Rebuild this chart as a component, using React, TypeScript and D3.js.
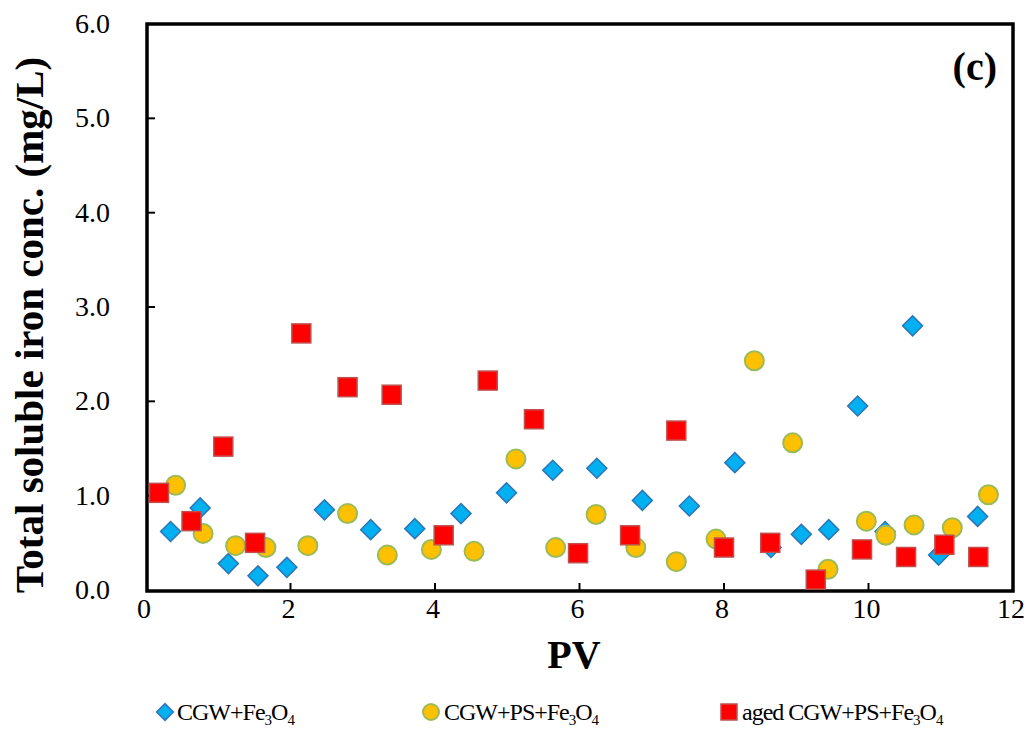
import React, { useRef, useEffect } from 'react';
import * as d3 from 'd3';

// CGW+Fe3O4 (blue diamonds)
const cgwX = [0.34, 0.75, 1.14, 1.55, 1.95, 2.47, 3.11, 3.72, 4.36, 4.99, 5.63, 6.24, 6.87, 7.52, 8.15, 8.65, 9.07, 9.45, 9.85, 10.23, 10.61, 10.97, 11.51];
const cgwY = [0.62, 0.87, 0.28, 0.15, 0.24, 0.85, 0.64, 0.65, 0.81, 1.03, 1.27, 1.29, 0.95, 0.89, 1.35, 0.45, 0.59, 0.64, 1.95, 0.62, 2.80, 0.37, 0.78];

// CGW+PS+Fe3O4 (yellow circles)
const psX = [0.41, 0.79, 1.24, 1.66, 2.24, 2.79, 3.34, 3.95, 4.54, 5.12, 5.67, 6.23, 6.78, 7.34, 7.89, 8.42, 8.95, 9.44, 9.97, 10.24, 10.63, 11.16, 11.66];
const psY = [1.11, 0.60, 0.47, 0.45, 0.47, 0.81, 0.37, 0.43, 0.41, 1.39, 0.45, 0.80, 0.45, 0.30, 0.54, 2.43, 1.56, 0.22, 0.73, 0.58, 0.69, 0.66, 1.01];

// aged CGW+PS+Fe3O4 (red squares)
const agedX = [0.18, 0.63, 1.07, 1.51, 2.15, 2.79, 3.40, 4.12, 4.73, 5.37, 5.98, 6.70, 7.34, 8.00, 8.64, 9.27, 9.91, 10.52, 11.05, 11.52];
const agedY = [1.03, 0.73, 1.52, 0.50, 2.72, 2.15, 2.07, 0.58, 2.22, 1.81, 0.39, 0.58, 1.69, 0.45, 0.50, 0.11, 0.43, 0.35, 0.48, 0.35];

const xTicks = [0, 2, 4, 6, 8, 10, 12];
const yTicks = [0, 1, 2, 3, 4, 5, 6];

const WIDTH = 1029;
const HEIGHT = 745;
const SERIF = '"Liberation Serif", "Times New Roman", serif';

const App = () => {
  const svgRef = useRef<SVGSVGElement>(null);

  useEffect(() => {
    const svg = d3.select(svgRef.current);
    svg.selectAll('*').remove();

    const x = d3.scaleLinear().domain([0, 12]).range([146, 1013]);
    const y = d3.scaleLinear().domain([0, 6]).range([590, 24]);

    svg.append('rect').attr('width', WIDTH).attr('height', HEIGHT).attr('fill', 'white');

    // frame
    svg.append('rect')
      .attr('x', 147).attr('y', 24)
      .attr('width', 1013 - 147).attr('height', 591 - 24)
      .attr('fill', 'none').attr('stroke', 'black').attr('stroke-width', 3.5);

    // y ticks (inside)
    const yAxis = svg.append('g');
    yTicks.forEach(t => {
      if (t > 0 && t < 6) {
        yAxis.append('line')
          .attr('x1', 147).attr('x2', 155)
          .attr('y1', y(t)).attr('y2', y(t))
          .attr('stroke', 'black').attr('stroke-width', 2);
      }
      yAxis.append('text')
        .attr('x', 110).attr('y', y(t) + 9)
        .attr('text-anchor', 'end')
        .style('font-family', SERIF).style('font-size', '28px')
        .text(t.toFixed(1));
    });

    // x ticks (inside)
    const xAxis = svg.append('g');
    xTicks.forEach(t => {
      if (t > 0 && t < 12) {
        xAxis.append('line')
          .attr('x1', x(t)).attr('x2', x(t))
          .attr('y1', 591).attr('y2', 583)
          .attr('stroke', 'black').attr('stroke-width', 2);
      }
      xAxis.append('text')
        .attr('x', x(t) - 2).attr('y', 618)
        .attr('text-anchor', 'middle')
        .style('font-family', SERIF).style('font-size', '28px')
        .text(t);
    });

    // axis titles
    svg.append('text')
      .attr('x', 574).attr('y', 668)
      .attr('text-anchor', 'middle')
      .style('font-family', SERIF).style('font-size', '40px').style('font-weight', 'bold')
      .text('PV');

    svg.append('text')
      .attr('transform', 'translate(43,325) rotate(-90)')
      .attr('text-anchor', 'middle')
      .style('font-family', SERIF).style('font-size', '41px').style('font-weight', 'bold')
      .text('Total soluble iron conc. (mg/L)');

    svg.append('text')
      .attr('x', 997).attr('y', 80)
      .attr('text-anchor', 'end')
      .style('font-family', SERIF).style('font-size', '40px').style('font-weight', 'bold')
      .text('(c)');

    const diamond = d3.symbol().type(d3.symbolSquare).size(200)();
    const plot = svg.append('g');

    // blue diamonds
    plot.selectAll('.cgw')
      .data(d3.zip(cgwX, cgwY))
      .enter()
      .append('path')
      .attr('d', diamond)
      .attr('transform', d => `translate(${x(d[0])},${y(d[1])}) rotate(45)`)
      .attr('fill', '#00B0F0')
      .attr('stroke', '#2E75B6')
      .attr('stroke-width', 1.5);

    // yellow circles
    plot.selectAll('.ps')
      .data(d3.zip(psX, psY))
      .enter()
      .append('circle')
      .attr('cx', d => x(d[0]))
      .attr('cy', d => y(d[1]))
      .attr('r', 9.5)
      .attr('fill', '#FFC000')
      .attr('stroke', '#9BBB59')
      .attr('stroke-width', 2);

    // red squares
    plot.selectAll('.aged')
      .data(d3.zip(agedX, agedY))
      .enter()
      .append('rect')
      .attr('x', d => x(d[0]) - 9.5)
      .attr('y', d => y(d[1]) - 9.5)
      .attr('width', 19).attr('height', 19)
      .attr('fill', '#FF0000')
      .attr('stroke', '#C0504D')
      .attr('stroke-width', 1.5);

    // legend
    const legend = svg.append('g');
    const legendY = 712;
    const addLabel = (lx: number, prefix: string) => {
      const t = legend.append('text')
        .attr('x', lx).attr('y', legendY + 8)
        .style('font-family', SERIF).style('font-size', '24px')
        .style('letter-spacing', '-1px');
      t.append('tspan').text(prefix + 'Fe');
      t.append('tspan').attr('dy', 5).style('font-size', '15px').text('3');
      t.append('tspan').attr('dy', -5).text('O');
      t.append('tspan').attr('dy', 5).style('font-size', '15px').text('4');
    };

    legend.append('path')
      .attr('d', d3.symbol().type(d3.symbolSquare).size(140)())
      .attr('transform', `translate(165,${legendY}) rotate(45)`)
      .attr('fill', '#00B0F0').attr('stroke', '#2E75B6').attr('stroke-width', 1.5);
    addLabel(177, 'CGW+');

    legend.append('circle')
      .attr('cx', 431).attr('cy', legendY).attr('r', 8)
      .attr('fill', '#FFC000').attr('stroke', '#9BBB59').attr('stroke-width', 2);
    addLabel(444, 'CGW+PS+');

    legend.append('rect')
      .attr('x', 721).attr('y', legendY - 8).attr('width', 16).attr('height', 16)
      .attr('fill', '#FF0000').attr('stroke', '#C0504D').attr('stroke-width', 1.5);
    addLabel(742, 'aged CGW+PS+');
  }, []);

  return (
    <div style={{ position: 'absolute', left: 0, top: 0 }}>
      <svg ref={svgRef} width={WIDTH} height={HEIGHT} style={{ display: 'block' }}></svg>
    </div>
  );
};

export default App;
